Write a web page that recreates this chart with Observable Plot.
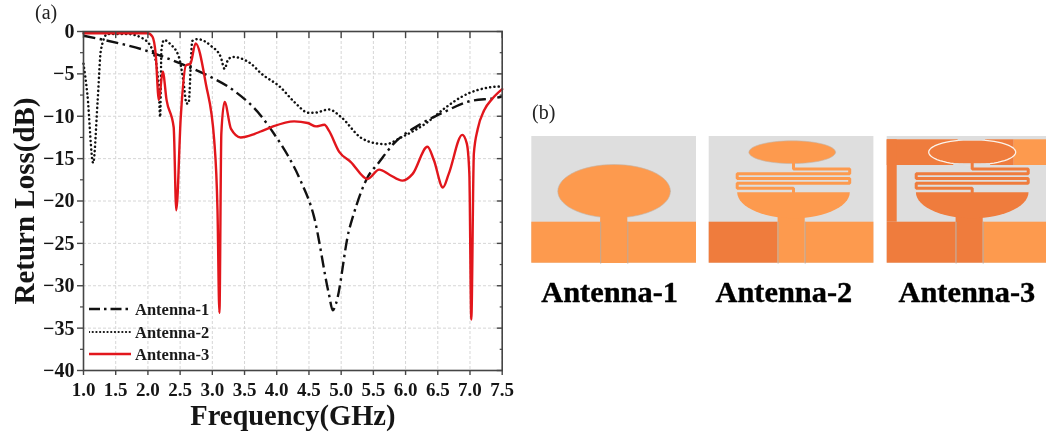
<!DOCTYPE html>
<html>
<head>
<meta charset="utf-8">
<script src="https://cdn.jsdelivr.net/npm/d3@7"></script>
<script src="https://cdn.jsdelivr.net/npm/@observablehq/plot@0.6"></script>
<style>
html,body{margin:0;padding:0;background:#fff;width:1046px;height:434px;overflow:hidden}
#page{position:relative;width:1046px;height:434px;font-family:"Liberation Serif",serif;filter:blur(0.35px)}
#page>*{position:absolute}
.leg{font-weight:bold;font-size:16.5px;line-height:16px;color:#1a1a1a;white-space:nowrap}
</style>
</head>
<body>
<div id="page"></div>
<script>
const xTicks = [1,1.5,2,2.5,3,3.5,4,4.5,5,5.5,6,6.5,7,7.5];
const yTicks = [0,-5,-10,-15,-20,-25,-30,-35,-40];
const yMinor = [-2.5,-7.5,-12.5,-17.5,-22.5,-27.5,-32.5,-37.5];
const seriesNames = ["Antenna-1","Antenna-2","Antenna-3"];

const ant1F = [1,1.32,1.99,2.51,2.93,3.34,3.75,3.96,4.17,4.37,4.58,4.81,4.87,4.92,5.12,5.18,5.41,5.57,5.82,6.24,6.6,6.96,7.48,7.5];
const ant1L = [-0.5,-1,-2.3,-3.8,-5.2,-7,-9.9,-12.1,-14.6,-17.6,-21.9,-31,-32.9,-32.1,-23.5,-21.9,-17.2,-15.6,-13.2,-10.9,-9.5,-8.3,-7.7,-7.6];

const ant2F = [1,1.06,1.15,1.22,1.27,1.37,1.68,1.94,2.1,2.17,2.19,2.21,2.25,2.35,2.48,2.55,2.6,2.63,2.69,2.77,2.98,3.13,3.19,3.24,3.31,3.6,3.75,4.06,4.27,4.5,4.58,4.81,5,5.3,5.54,5.69,5.93,6.34,6.6,6.86,7.12,7.48,7.5];
const ant2L = [-3.8,-7.4,-15.5,-8.1,-2.2,-0.3,-0.3,-0.9,-2.8,-7,-10.1,-2.2,-1,-1.5,-3,-5.8,-8.5,-8.5,-1.1,-0.9,-1.7,-3,-4.4,-3.4,-3,-3.8,-4.9,-6.6,-8.3,-9.6,-9.6,-9.2,-10.1,-12.5,-13.2,-13.3,-12.5,-10.7,-9.1,-7.75,-6.9,-6.5,-6.5];

const ant3F = [1,1.5,2,2.07,2.12,2.17,2.23,2.29,2.4,2.44,2.51,2.59,2.66,2.74,2.9,3.03,3.08,3.11,3.14,3.19,3.29,3.44,3.65,3.75,3.91,4.27,4.48,4.61,4.74,4.81,4.97,5.15,5.41,5.59,5.75,5.95,6.11,6.34,6.44,6.58,6.67,6.88,6.95,6.99,7.02,7.06,7.12,7.22,7.35,7.5];
const ant3L = [-0.2,-0.2,-0.2,-0.6,-2.6,-8.1,-4.7,-8.1,-11.3,-21.1,-10.1,-4,-3.8,-1.4,-6.2,-12.9,-21,-33.2,-12,-8.3,-11.5,-12.5,-12.1,-11.8,-11.3,-10.6,-10.8,-11.2,-11,-11.7,-14.2,-15.4,-17.4,-16.3,-16.9,-17.6,-16.8,-13.6,-15.2,-18.4,-16.8,-12.2,-13.2,-16.8,-34,-14.4,-11.5,-9.3,-7.9,-6.8];

const table = (f,l)=>f.map((x,i)=>({x,y:l[i]}));
const serif = '"Liberation Serif",serif';
const ink = "#151515", frame = "#454545", gridC = "#d6d6d6";
const noLabel = ()=>"";

const chart = Plot.plot({
  width:520,height:434,marginLeft:83,marginRight:18.3,marginTop:31,marginBottom:64,
  style:{fontFamily:serif,fontWeight:"bold",background:"transparent",overflow:"visible"},
  x:{domain:[1,7.5]},
  y:{domain:[-40,0]},
  marks:[
    Plot.gridX(xTicks,{stroke:gridC,strokeOpacity:1,strokeDasharray:"3 2"}),
    Plot.gridY(yTicks,{stroke:gridC,strokeOpacity:1,strokeDasharray:"3 2"}),
    Plot.line(table(ant1F,ant1L),{x:"x",y:"y",curve:"monotone-x",stroke:"#111",strokeWidth:2.4,strokeDasharray:"12 4.5 2.5 4.5",strokeLinecap:"butt"}),
    Plot.line(table(ant2F,ant2L),{x:"x",y:"y",curve:"monotone-x",stroke:"#111",strokeWidth:2.5,strokeDasharray:"0.1 4.2",strokeLinecap:"round"}),
    Plot.line(table(ant3F,ant3L),{x:"x",y:"y",curve:"monotone-x",stroke:"#e2161c",strokeWidth:2.4}),
    Plot.frame({stroke:frame,strokeWidth:1.6}),
    Plot.axisX({anchor:"bottom",ticks:xTicks,tickSize:5,tickPadding:7,tickFormat:d3.format(".1f"),label:null,fontSize:19,fontWeight:"bold",fill:ink,stroke:frame,strokeWidth:1.4}),
    Plot.axisX({anchor:"top",ticks:xTicks,tickSize:-6,tickFormat:noLabel,label:null,stroke:frame,strokeWidth:1.4}),
    Plot.axisY({anchor:"left",ticks:yTicks,tickSize:6,tickPadding:3,tickFormat:d3.format(""),label:null,fontSize:20,fontWeight:"bold",fill:ink,stroke:frame,strokeWidth:1.4}),
    Plot.axisY({anchor:"left",ticks:yMinor,tickSize:3,tickFormat:noLabel,label:null,stroke:frame,strokeWidth:1.2}),
    Plot.axisY({anchor:"right",ticks:yTicks,tickSize:-6,tickFormat:noLabel,label:null,stroke:frame,strokeWidth:1.4}),
    Plot.axisY({anchor:"right",ticks:yMinor,tickSize:-3,tickFormat:noLabel,label:null,stroke:frame,strokeWidth:1.2}),
    Plot.text(["Frequency(GHz)"],{frameAnchor:"bottom",dy:54,fontSize:28.5,fontWeight:"bold",fill:ink}),
    Plot.text(["Return Loss(dB)"],{frameAnchor:"left",textAnchor:"middle",rotate:-90,dx:-59,fontSize:29,fontWeight:"bold",fill:ink})
  ]
});
chart.style.left="0px";chart.style.top="0px";

/* Panel (b): antenna schematics, in page-like diagram units */
const light="#fd9a4e", dark="#ef7c3d", bg="#dedede", edge="#c2b5aa";
const panelLefts=[531.3,708.7,886.7], panelTop=136, panelW=164.7, panelH=126.7, stripTop=85.7;
const labelStarts=[540.7,715,898], labelBase=301;
const labelNames=seriesNames;

const ellipse=(cx,cy,rx,ry,a0=0,a1=360)=>d3.range(a0,a1+0.1,6).map(a=>({x:cx+rx*Math.cos(a*Math.PI/180),y:cy+ry*Math.sin(a*Math.PI/180)}));

function antenna(index){
  const L=panelLefts[index],T=panelTop;
  const R=(x1,x2,y1,y2,fill)=>Plot.rect([{}],{x1:L+x1,x2:L+x2,y1:T+y1,y2:T+y2,fill});
  const shift=pts=>pts.map(p=>({x:L+p.x,y:T+p.y}));
  const S=(pts,fill,stroke="none",strokeWidth=0.6)=>Plot.line(shift(pts),{x:"x",y:"y",fill,stroke,strokeWidth,curve:"linear-closed"});
  const V=(x,y1,y2)=>Plot.line(shift([{x,y:y1},{x,y:y2}]),{x:"x",y:"y",stroke:"#b9aca0",strokeWidth:0.9});
  const stemL=68.9, stemR=96;
  const marks=[];
  if(index===0){
    marks.push(R(0,panelW,0,panelH,bg),R(0,panelW,stripTop,panelH,light),
      R(stemL,stemR,75,panelH,light),
      S(ellipse(82.3,54.7,56.3,26.7),light,edge),
      R(stemL+0.5,stemR-0.5,78,panelH,light),V(stemL,stripTop,panelH),V(stemR,stripTop,panelH));
    return marks;
  }
  const c = index===1 ? light : dark;
  const cx = index===1 ? 84.3 : 85, xa = index===1 ? 28 : 29, xb = index===1 ? 140.5 : 141;
  const meander=[[cx,25],[cx,32.5],[xb,32.5],[xb,37.3],[xa,37.3],[xa,41.9],[xb,41.9],[xb,46.7],[xa,46.7],[xa,51.7],[cx,51.7],[cx,56]].map(([x,y])=>({x,y}));
  const bowl=S(ellipse(cx,55.7,56.3,26,0,180),c);
  if(index===1){
    marks.push(R(0,panelW,0,panelH,bg),R(0,stemL,stripTop,panelH,dark),R(stemR,panelW,stripTop,panelH,light),R(stemL,stemR,78,panelH,light),
      S(ellipse(83,15.7,43.3,11.4),light,edge),bowl);
  } else {
    marks.push(R(0,panelW,0,panelH,bg),
      R(0,127,3.3,29,dark),R(127,panelW,3.3,29,light),R(0,10,3.3,stripTop,dark),
      R(0,stemL,stripTop,panelH,dark),R(stemR,panelW,stripTop,panelH,light),R(stemL,stemR,78,panelH,dark),
      S(ellipse(85,15.7,43.5,12.5),dark,"#fbf3ea",1.3),
      R(71,98.3,0,4.4,bg),R(66.6,103.3,27.2,29.4,bg),
      bowl);
  }
  marks.push(Plot.line(shift(meander),{x:"x",y:"y",stroke:c,strokeWidth:3,strokeLinejoin:"miter"}),
    V(stemL,stripTop,panelH),V(stemR,stripTop,panelH));
  return marks;
}

const panelLabels=labelNames.map((name,i)=>({name,x:labelStarts[i],y:labelBase}));
const diagram=Plot.plot({
  width:526,height:230,margin:0,
  style:{fontFamily:serif,background:"transparent"},
  x:{domain:[520,1046],axis:null},
  y:{domain:[90,320],range:[0,230],axis:null},
  marks:[
    ...panelLefts.flatMap((_,i)=>antenna(i)),
    Plot.text(panelLabels,{x:"x",y:"y",text:"name",textAnchor:"start",lineAnchor:"bottom",dy:0,fontSize:30.4,fontWeight:"bold",fill:"#000",stroke:"#000",strokeWidth:0.4})
  ]
});
diagram.style.left="520px";diagram.style.top="90px";

const page=document.getElementById("page");
page.append(chart,diagram);

function tag(text,x,base,size){
  const d=document.createElement("div");
  d.textContent=text;
  d.style.cssText=`left:${x}px;top:${base-size}px;font-size:${size}px;line-height:${size*1.15}px;color:#222;`;
  page.append(d);
}
tag("(a)",35,21,20);
tag("(b)",532,121,20);

const legendRows=[
  {name:seriesNames[0],y:309,stroke:"#111",dash:"11 4 2.5 4",w:2.4,cap:"butt"},
  {name:seriesNames[1],y:332,stroke:"#111",dash:"0.1 3.6",w:2.2,cap:"round"},
  {name:seriesNames[2],y:354,stroke:"#e2161c",dash:"",w:2.4,cap:"butt"}
];
legendRows.forEach(r=>{
  const s=document.createElementNS("http://www.w3.org/2000/svg","svg");
  s.setAttribute("width",42);s.setAttribute("height",6);
  s.style.cssText=`left:89px;top:${r.y-3}px;`;
  const l=document.createElementNS("http://www.w3.org/2000/svg","line");
  l.setAttribute("x1",0);l.setAttribute("x2",42);l.setAttribute("y1",3);l.setAttribute("y2",3);
  l.setAttribute("stroke",r.stroke);l.setAttribute("stroke-width",r.w);
  l.setAttribute("stroke-dasharray",r.dash);l.setAttribute("stroke-linecap",r.cap);
  s.append(l);page.append(s);
  const t=document.createElement("div");
  t.className="leg";t.textContent=r.name;
  t.style.left="135px";t.style.top=(r.y-7)+"px";
  page.append(t);
});
</script>
</body>
</html>
